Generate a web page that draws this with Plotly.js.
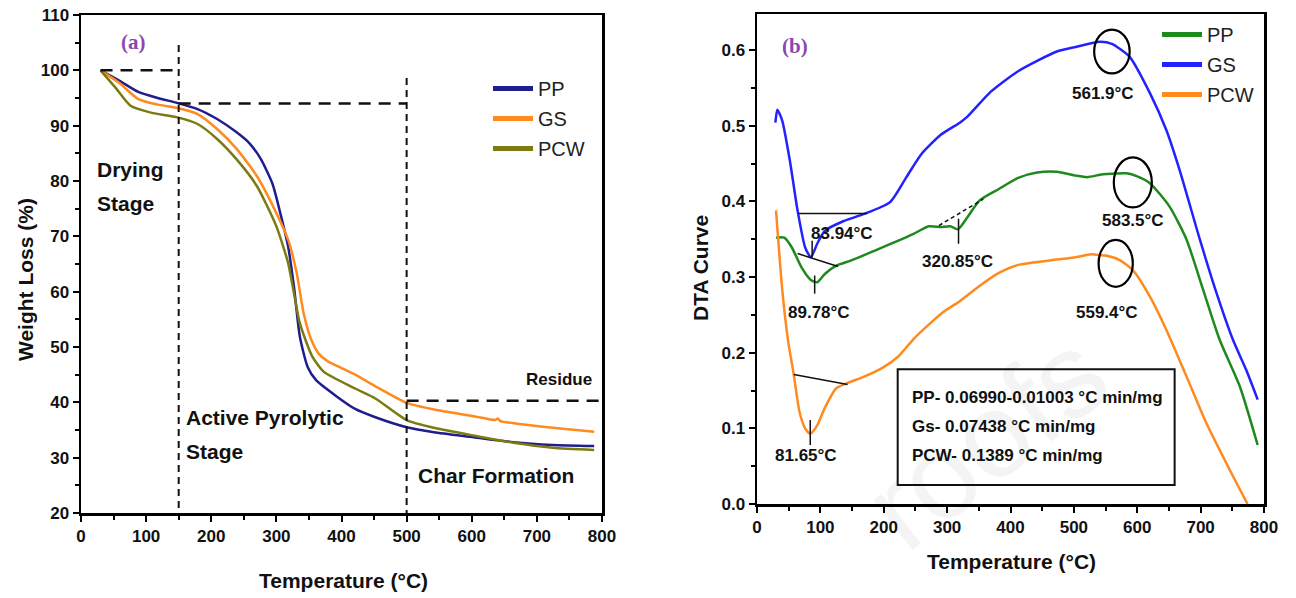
<!DOCTYPE html>
<html><head><meta charset="utf-8">
<script src="https://cdn.plot.ly/plotly-3.0.1.min.js"></script>
<style>html,body{margin:0;padding:0;background:#fff}#chart{width:1296px;height:598px}</style>
</head><body><div id="chart"></div>
<script>
// ---- Panel (a): TGA weight loss ----
var tgaTempPP = [30,58,88,118,148,179,209,239,258,276,294,306,318,327,336,348,361,391,421,452,500,542,603,664,724,788];
var tgaPP     = [100,98.2,96.1,95.0,94.1,93.0,91.2,88.8,86.9,84.0,79.5,74.2,68.2,60.9,51.9,46.4,44.0,41.2,38.8,37.3,35.5,34.6,33.7,32.8,32.3,32.1];
var tgaTempGS = [30,58,88,118,148,179,209,239,270,300,318,331,342,353,365,379,400,421,452,500,542,603,636,640,644,680,724,788];
var tgaGS     = [100,97.8,94.8,93.8,93.2,92.1,89.4,85.8,80.9,74.2,69.4,63.5,56.0,51.5,48.8,47.4,46.2,45.0,42.9,39.9,38.7,37.5,36.8,37.1,36.6,36.0,35.4,34.7];
var tgaTempPCW = [30,52,76,106,148,179,209,239,270,300,318,327,336,355,373,421,452,500,542,603,664,724,788];
var tgaPCW     = [100,97.0,93.6,92.4,91.5,90.3,87.6,83.9,79.1,71.8,65.2,59.7,54.3,48.3,45.5,42.5,40.7,36.8,35.4,34.0,32.7,31.8,31.4];

// ---- Panel (b): DTA curves ----
var dtaTempPP = [30,43,55,70,85,95,107,125,149,186,223,247,271,290,305,317,332,351,381,412,442,473,503,521,541,552,583,600,620,651,678,704,730,762,790];
var dtaPP     = [0.352,0.352,0.339,0.313,0.296,0.293,0.304,0.315,0.322,0.335,0.348,0.357,0.367,0.366,0.367,0.363,0.379,0.401,0.416,0.431,0.438,0.439,0.434,0.432,0.435,0.436,0.437,0.433,0.424,0.393,0.349,0.283,0.217,0.155,0.078];
var dtaTempGS = [29,32,36,40,52,64,76,85,95,107,137,168,210,235,259,290,320,332,369,412,473,503,541,560,588,620,646,667,699,725,751,772,790];
var dtaGS     = [0.504,0.521,0.515,0.506,0.453,0.388,0.339,0.326,0.344,0.361,0.374,0.383,0.399,0.431,0.462,0.488,0.504,0.512,0.545,0.572,0.598,0.604,0.611,0.608,0.591,0.543,0.494,0.441,0.349,0.279,0.217,0.177,0.138];
var dtaTempPCW = [30,40,49,58,67,76,84,95,107,125,143,168,198,223,247,271,296,320,351,381,412,473,503,527,541,552,573,593,620,646,678,709,746,774];
var dtaPCW     = [0.388,0.282,0.216,0.171,0.122,0.100,0.093,0.104,0.127,0.153,0.160,0.168,0.180,0.195,0.218,0.237,0.255,0.268,0.288,0.305,0.316,0.323,0.326,0.330,0.329,0.328,0.322,0.309,0.274,0.230,0.168,0.107,0.045,0.0];

var legendNames = ['PP','GS','PCW'];
var xTicks = [0,100,200,300,400,500,600,700,800];

var FONT = 'Liberation Sans, Arial, sans-serif';
var cNavy='#1e1e8f', cOrange='#ff8a1e', cOlive='#7b7b12', cGreen='#1e8a1e', cBlue='#2222ff';

function curve(x,y,color,xa,ya,grp){
  return {x:x,y:y,type:'scatter',mode:'lines',line:{color:color,width:2.5,shape:'spline',smoothing:0.6},
    xaxis:xa,yaxis:ya,showlegend:false,legendgroup:grp,hoverinfo:'x+y'};
}
function legItem(name,color,leg,grp,xa,ya){
  return {x:[null],y:[null],type:'scatter',mode:'lines',name:name,line:{color:color,width:5},
    xaxis:xa,yaxis:ya,legend:leg,legendgroup:grp};
}
var data = [
  curve(tgaTempPP,tgaPP,cNavy,'x','y','a1'),
  curve(tgaTempGS,tgaGS,cOrange,'x','y','a2'),
  curve(tgaTempPCW,tgaPCW,cOlive,'x','y','a3'),
  curve(dtaTempPP,dtaPP,cGreen,'x2','y2','b1'),
  curve(dtaTempGS,dtaGS,cBlue,'x2','y2','b2'),
  curve(dtaTempPCW,dtaPCW,cOrange,'x2','y2','b3'),
  legItem(legendNames[0],cNavy,'legend','a1','x','y'),
  legItem(legendNames[1],cOrange,'legend','a2','x','y'),
  legItem(legendNames[2],cOlive,'legend','a3','x','y'),
  legItem(legendNames[0],cGreen,'legend2','b1','x2','y2'),
  legItem(legendNames[1],cBlue,'legend2','b2','x2','y2'),
  legItem(legendNames[2],cOrange,'legend2','b3','x2','y2')
];

var W=1296,H=598;
function px(v){return v/W;} function py(v){return 1-v/H;}
var tickFont={family:FONT,size:17,color:'#111',weight:'bold'};
function axisBase(){
  return {showline:true,linewidth:2.5,linecolor:'#000',mirror:true,ticks:'outside',ticklen:6,tickwidth:2,
    tickcolor:'#000',showgrid:false,zeroline:false,tickfont:tickFont,
    minor:{ticks:'outside',ticklen:4,tickwidth:2,tickcolor:'#000',showgrid:false}};
}
var xa=axisBase(); Object.assign(xa,{domain:[px(81),px(602)],range:[0,800],tickvals:xTicks,anchor:'y'}); xa.minor.dtick=50;
var ya=axisBase(); Object.assign(ya,{domain:[py(513),py(15)],range:[20,110],dtick:10,anchor:'x'}); ya.minor.dtick=5;
var xb=axisBase(); Object.assign(xb,{domain:[px(757),px(1264)],range:[0,800],tickvals:xTicks,anchor:'y2'}); xb.minor.dtick=50;
var yb=axisBase(); Object.assign(yb,{domain:[py(504),py(14)],range:[0,0.6476],dtick:0.1,tickformat:'.1f',anchor:'x2'}); yb.minor.dtick=0.05;

function dash(x0,y0,x1,y1){return {type:'line',xref:'x',yref:'y',x0:x0,y0:y0,x1:x1,y1:y1,line:{color:'#111',width:2.5,dash:'12px,8px'}};}
function vdash(x0,y0,x1,y1){return {type:'line',xref:'x',yref:'y',x0:x0,y0:y0,x1:x1,y1:y1,line:{color:'#111',width:2,dash:'7px,5px'}};}
function ln(x0,y0,x1,y1,d){return {type:'line',xref:'x2',yref:'y2',x0:x0,y0:y0,x1:x1,y1:y1,line:{color:'#111',width:1.5,dash:d||'solid'}};}
function ell(cx,cy,hx,hy){return {type:'circle',xref:'x2',yref:'y2',x0:cx-hx,x1:cx+hx,y0:cy-hy,y1:cy+hy,line:{color:'#000',width:2.2}};}
var shapes=[
  dash(30,100,150,100), vdash(150,104.6,150,20),
  dash(150,94,500,94), vdash(500,98.6,500,20),
  dash(500,40.3,800,40.3),
  ln(65,0.384,174,0.384), ln(87,0.348,87,0.326),
  ln(64,0.331,128,0.314), ln(91,0.302,91,0.278),
  ln(287,0.368,357,0.403,'4px,3px'), ln(318,0.377,318,0.344),
  ln(58,0.171,143,0.158), ln(84,0.111,84,0.078),
  ell(560,0.598,28,0.029), ell(593,0.425,30,0.033), ell(566,0.318,27,0.031),
  {type:'rect',xref:'x2',yref:'y2',x0:222,x1:659,y0:0.025,y1:0.178,line:{color:'#111',width:2}}
];

function ann(text,x,y,size,opts){
  var a={text:text,x:x,y:y,xref:'x',yref:'y',showarrow:false,font:{family:FONT,size:size,color:'#111',weight:'bold'},xanchor:'left',yanchor:'middle'};
  return Object.assign(a,opts||{});
}
function ann2(text,x,y,size,opts){
  return ann(text,x,y,size,Object.assign({xref:'x2',yref:'y2',xanchor:'center'},opts||{}));
}
function title(text,x,y,angle){
  return {text:text,x:px(x),y:py(y),xref:'paper',yref:'paper',xanchor:'center',yanchor:'middle',showarrow:false,textangle:angle||0,
    font:{family:FONT,size:21,color:'#111',weight:'bold'}};
}
var annotations=[
  {text:'roofs',x:px(985),y:py(440),xref:'paper',yref:'paper',xanchor:'center',yanchor:'middle',showarrow:false,textangle:-38,font:{family:FONT,size:120,color:'rgba(0,0,0,0.045)'}},
  {text:'(a)',x:80,y:105.1,xref:'x',yref:'y',xanchor:'center',yanchor:'middle',showarrow:false,font:{family:'Liberation Serif, serif',size:21,color:'#8b47ad',weight:'bold'}},
  ann('Drying',21.5,82.0,21), ann('Stage',21.5,76.0,21),
  ann('Active Pyrolytic',158,37.2,21), ann('Stage',158,31.2,21),
  ann('Char Formation',514,26.7,21),
  ann('Residue',734,44.2,17,{xanchor:'center'}),
  {text:'(b)',x:60,y:0.605,xref:'x2',yref:'y2',xanchor:'center',yanchor:'middle',showarrow:false,font:{family:'Liberation Serif, serif',size:21,color:'#8b47ad',weight:'bold'}},
  ann2('561.9°C',546,0.543,17), ann2('583.5°C',593,0.375,17), ann2('559.4°C',552,0.253,17),
  ann2('83.94°C',134,0.358,17), ann2('320.85°C',317,0.320,17),
  ann2('89.78°C',98,0.253,17), ann2('81.65°C',78,0.064,17),
  ann2('PP- 0.06990-0.01003 °C min/mg',242,0.141,17,{xanchor:'left'}),
  ann2('Gs- 0.07438 °C min/mg',242,0.102,17,{xanchor:'left'}),
  ann2('PCW- 0.1389 °C min/mg',242,0.064,17,{xanchor:'left'}),
  title('Weight Loss (%)',25,280,-90),
  title('Temperature (°C)',343,580,0),
  title('DTA Curve',701,268,-90),
  title('Temperature (°C)',1011,561,0)
];

var layout={
  width:W,height:H,margin:{l:0,r:0,t:0,b:0},paper_bgcolor:'#fff',plot_bgcolor:'#fff',
  xaxis:xa,yaxis:ya,xaxis2:xb,yaxis2:yb,shapes:shapes,annotations:annotations,
  legend:{x:px(488),y:py(69),xanchor:'left',yanchor:'top',traceorder:'grouped',tracegroupgap:1,itemwidth:40,bgcolor:'rgba(0,0,0,0)',font:{family:FONT,size:20,color:'#222'}},
  legend2:{x:px(1157),y:py(15),xanchor:'left',yanchor:'top',traceorder:'grouped',tracegroupgap:1,itemwidth:40,bgcolor:'rgba(0,0,0,0)',font:{family:FONT,size:20,color:'#222'}}
};
Plotly.newPlot('chart',data,layout,{displayModeBar:false,staticPlot:true});
</script></body></html>
